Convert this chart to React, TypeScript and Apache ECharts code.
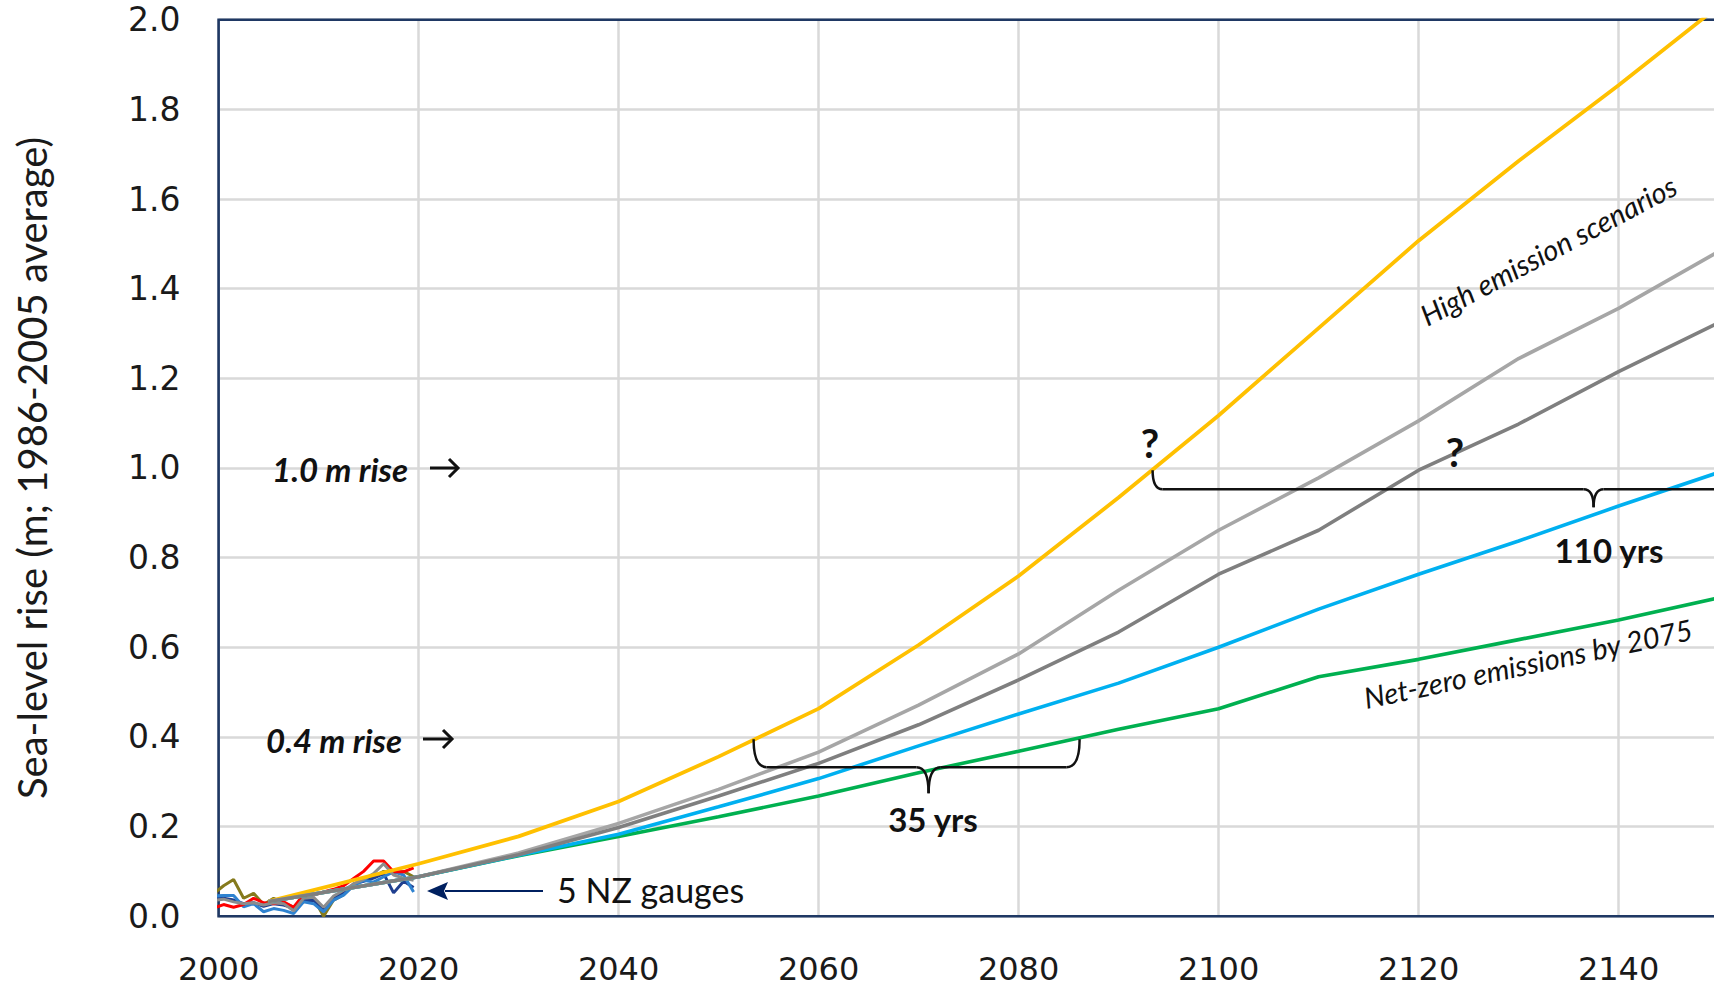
import React, { useEffect, useRef } from "react";
import * as echarts from "echarts";

// ---- Scenario projections (m of rise relative to 1986-2005 mean) ----
const scenarioYears = [2005, 2020, 2030, 2040, 2050, 2060, 2070, 2080, 2090, 2100, 2110, 2120, 2130, 2140, 2150];
const highYellow = [0.033, 0.117, 0.178, 0.256, 0.356, 0.463, 0.605, 0.759, 0.934, 1.117, 1.312, 1.507, 1.685, 1.854, 2.03];
const highLightGrey = [0.033, 0.088, 0.141, 0.207, 0.283, 0.366, 0.471, 0.585, 0.727, 0.861, 0.978, 1.105, 1.244, 1.356, 1.483];
const highDarkGrey = [0.033, 0.088, 0.137, 0.198, 0.268, 0.341, 0.427, 0.527, 0.634, 0.763, 0.861, 0.995, 1.098, 1.215, 1.324];
const midBlue = [0.033, 0.088, 0.136, 0.183, 0.244, 0.307, 0.38, 0.451, 0.52, 0.6, 0.685, 0.763, 0.837, 0.915, 0.99];
const netZeroGreen = [0.033, 0.088, 0.135, 0.178, 0.222, 0.268, 0.32, 0.368, 0.417, 0.463, 0.534, 0.573, 0.617, 0.661, 0.71];

// ---- 5 NZ tide gauges (annual means) ----
const gaugeYears = [1999.5, 2000.5, 2001.5, 2002.5, 2003.5, 2004.5, 2005.5, 2006.5, 2007.5, 2008.5, 2009.5, 2010.5, 2011.5, 2012.5, 2013.5, 2014.5, 2015.5, 2016.5, 2017.5, 2018.5, 2019.5];
const gaugeOlive = [0.05, 0.068, 0.082, 0.04, 0.051, 0.026, 0.04, 0.03, 0.02, 0.032, 0.04, 0.0, 0.036, 0.048, 0.07, 0.085, 0.088, 0.1, 0.096, 0.1, 0.088];
const gaugeNavy = [0.038, 0.04, 0.036, 0.028, 0.03, 0.022, 0.028, 0.025, 0.018, 0.035, 0.035, 0.015, 0.04, 0.052, 0.072, 0.078, 0.085, 0.095, 0.052, 0.078, 0.064];
const gaugeBlue = [0.045, 0.046, 0.046, 0.021, 0.028, 0.01, 0.017, 0.013, 0.006, 0.032, 0.028, 0.01, 0.036, 0.047, 0.068, 0.08, 0.076, 0.088, 0.099, 0.092, 0.054];
const gaugeRed = [0.018, 0.026, 0.02, 0.026, 0.04, 0.03, 0.028, 0.032, 0.02, 0.048, 0.047, 0.054, 0.06, 0.068, 0.084, 0.1, 0.123, 0.123, 0.099, 0.099, 0.108];
const gaugeGrey = [0.035, 0.038, 0.032, 0.028, 0.03, 0.025, 0.03, 0.028, 0.012, 0.04, 0.042, 0.02, 0.045, 0.058, 0.072, 0.082, 0.095, 0.117, 0.092, 0.085, 0.08];

// ---- Axes ----
const xRange = [2000, 2150];
const xStep = 20;
const yRange = [0, 2];
const yStep = 0.2;

// ---- Annotation anchors (year, metres) ----
const brace35Start = [2053.5, 0.395];
const brace35End = [2086.1, 0.395];
const brace35Tip = 2071;
const brace110Start = [2093.4, 0.995];
const brace110End = [2181.6, 0.995];
const brace110Tip = 2137.5;

const zip = (xs: number[], ys: number[]) => xs.map((x, i) => [x, ys[i]]);

export default function App() {
  const ref = useRef<HTMLDivElement>(null);

  useEffect(() => {
    document.body.style.margin = "0";
    const chart = echarts.init(ref.current!, null, { renderer: "svg" });

    const scen = (name: string, ys: number[], color: string, w = 3.6) => ({
      name,
      type: "line",
      data: zip(scenarioYears, ys),
      showSymbol: false,
      symbol: "none",
      lineStyle: { color, width: w },
      itemStyle: { color },
      z: 3,
    });
    const gauge = (name: string, ys: number[], color: string) => ({
      name,
      type: "line",
      data: zip(gaugeYears, ys),
      showSymbol: false,
      symbol: "none",
      lineStyle: { color, width: 3 },
      itemStyle: { color },
      z: 2,
    });

    chart.setOption({
      animation: false,
      grid: {
        left: 218.6,
        top: 19.7,
        width: 1500,
        height: 896.5,
        containLabel: false,
        outerBoundsMode: "none",
      },
      xAxis: {
        type: "value",
        min: xRange[0],
        max: xRange[1],
        interval: xStep,
        axisLine: { show: false },
        axisTick: { show: false },
        splitLine: { show: true, lineStyle: { color: "#D9D9D9", width: 2.5 } },
        axisLabel: {
          showMaxLabel: false,
          fontSize: 32,
          fontFamily: "DejaVu Sans",
          color: "#1a1a1a",
          margin: 37,
          formatter: (v: number) => String(v),
        },
      },
      yAxis: {
        type: "value",
        min: yRange[0],
        max: yRange[1],
        interval: yStep,
        axisLine: { show: false },
        axisTick: { show: false },
        splitLine: { show: true, lineStyle: { color: "#D9D9D9", width: 2.5 } },
        axisLabel: {
          fontSize: 33,
          fontFamily: "DejaVu Sans",
          color: "#1a1a1a",
          margin: 38,
          formatter: (v: number) => v.toFixed(1),
        },
        name: "Sea-level rise (m; 1986-2005 average)",
        nameLocation: "middle",
        nameGap: 167,
        nameTextStyle: { fontSize: 40, fontFamily: "Lato", color: "#1a1a1a" },
      },
      series: [
        gauge("Gauge olive", gaugeOlive, "#857A1C"),
        gauge("Gauge navy", gaugeNavy, "#1F3F8F"),
        gauge("Gauge blue", gaugeBlue, "#2E82D0"),
        gauge("Gauge red", gaugeRed, "#FF0000"),
        gauge("Gauge grey", gaugeGrey, "#8C8C8C"),
        scen("Net-zero emissions by 2075", netZeroGreen, "#00B050"),
        scen("Intermediate", midBlue, "#00B0F0"),
        scen("High emission (upper)", highYellow, "#FFC000", 3.8),
        scen("High emission (light grey)", highLightGrey, "#A6A6A6"),
        scen("High emission (dark grey)", highDarkGrey, "#7F7F7F"),
      ],
    });

    const p = (x: number, y: number) => chart.convertToPixel({ gridIndex: 0 }, [x, y]) as number[];
    const ink = "#111111";
    const st = { stroke: ink, lineWidth: 2.5, fill: null };

    const brace = (a: number[], b: number[], tipYear: number, drop: number, tip: number, r: number, cr: number) => {
      const [x0, y0] = p(a[0], a[1]);
      const [x1] = p(b[0], b[1]);
      const xc = p(tipYear, a[1])[0];
      const ym = y0 + drop;
      const yt = ym + tip;
      return [
        { type: "bezierCurve", z: 100, shape: { x1: x0, y1: y0, cpx1: x0, cpy1: ym, x2: x0 + r, y2: ym }, style: st },
        { type: "line", z: 100, shape: { x1: x0 + r, y1: ym, x2: xc - cr, y2: ym }, style: st },
        { type: "bezierCurve", z: 100, shape: { x1: xc - cr, y1: ym, cpx1: xc, cpy1: ym, x2: xc, y2: yt }, style: st },
        { type: "bezierCurve", z: 100, shape: { x1: xc + cr, y1: ym, cpx1: xc, cpy1: ym, x2: xc, y2: yt }, style: st },
        { type: "line", z: 100, shape: { x1: xc + cr, y1: ym, x2: x1 - r, y2: ym }, style: st },
        { type: "bezierCurve", z: 100, shape: { x1: x1 - r, y1: ym, cpx1: x1, cpy1: ym, x2: x1, y2: y0 }, style: st },
      ];
    };

    const txt = (text: string, x: number, y: number, size: number, opts: any = {}) => ({
      type: "text",
      z: 100,
      x,
      y,
      rotation: opts.rotation || 0,
      style: {
        text,
        fontSize: size,
        fontFamily: "Lato",
        fontWeight: opts.bold ? "bold" : "normal",
        fontStyle: opts.italic ? "italic" : "normal",
        fill: opts.fill || ink,
        align: opts.align || "center",
        verticalAlign: "middle",
      },
    });

    const rightArrow = (x0: number, x1: number, y: number) => [
      { type: "line", z: 100, shape: { x1: x0, y1: y, x2: x1, y2: y }, style: { stroke: ink, lineWidth: 3 } },
      {
        type: "polyline",
        z: 100,
        shape: { points: [[x1 - 9, y - 9], [x1, y], [x1 - 9, y + 9]] },
        style: { stroke: ink, lineWidth: 3, fill: null },
      },
    ];

    const tl = p(xRange[0], yRange[1]);
    const br = p(xRange[1], yRange[0]);
    const navy = "#1F3864";

    chart.setOption({
      graphic: [
        {
          type: "rect",
          z: 1,
          shape: { x: tl[0], y: tl[1], width: br[0] - tl[0], height: br[1] - tl[1] },
          style: { stroke: navy, lineWidth: 2.6, fill: null },
        },
        ...brace(brace35Start, brace35End, brace35Tip, 28, 26, 13, 12),
        ...brace(brace110Start, brace110End, brace110Tip, 19, 18, 10, 10),
        txt("35 yrs", 933, 819, 33, { bold: true }),
        txt("110 yrs", 1609, 550, 33, { bold: true }),
        txt("?", 1150, 443, 40, { bold: true }),
        txt("?", 1455, 452, 40, { bold: true }),
        txt("1.0 m rise", 272, 469, 33, { bold: true, italic: true, align: "left" }),
        ...rightArrow(430, 458, 468),
        txt("0.4 m rise", 266, 740, 33, { bold: true, italic: true, align: "left" }),
        ...rightArrow(423, 452, 739),
        txt("High emission scenarios", 1548, 250, 29, { italic: true, rotation: (28 * Math.PI) / 180 }),
        txt("Net-zero emissions by 2075", 1528, 663, 29, { italic: true, rotation: (12 * Math.PI) / 180 }),
        txt("5 NZ gauges", 557, 889, 34, { align: "left" }),
        {
          type: "line",
          z: 100,
          shape: { x1: 445, y1: 891, x2: 543, y2: 891 },
          style: { stroke: "#002060", lineWidth: 2 },
        },
        {
          type: "polygon",
          z: 100,
          shape: { points: [[427, 891], [448, 882], [444, 891], [448, 900]] },
          style: { fill: "#002060" },
        },
      ],
    });

    return () => chart.dispose();
  }, []);

  return <div ref={ref} style={{ width: 1714, height: 988 }} />;
}
